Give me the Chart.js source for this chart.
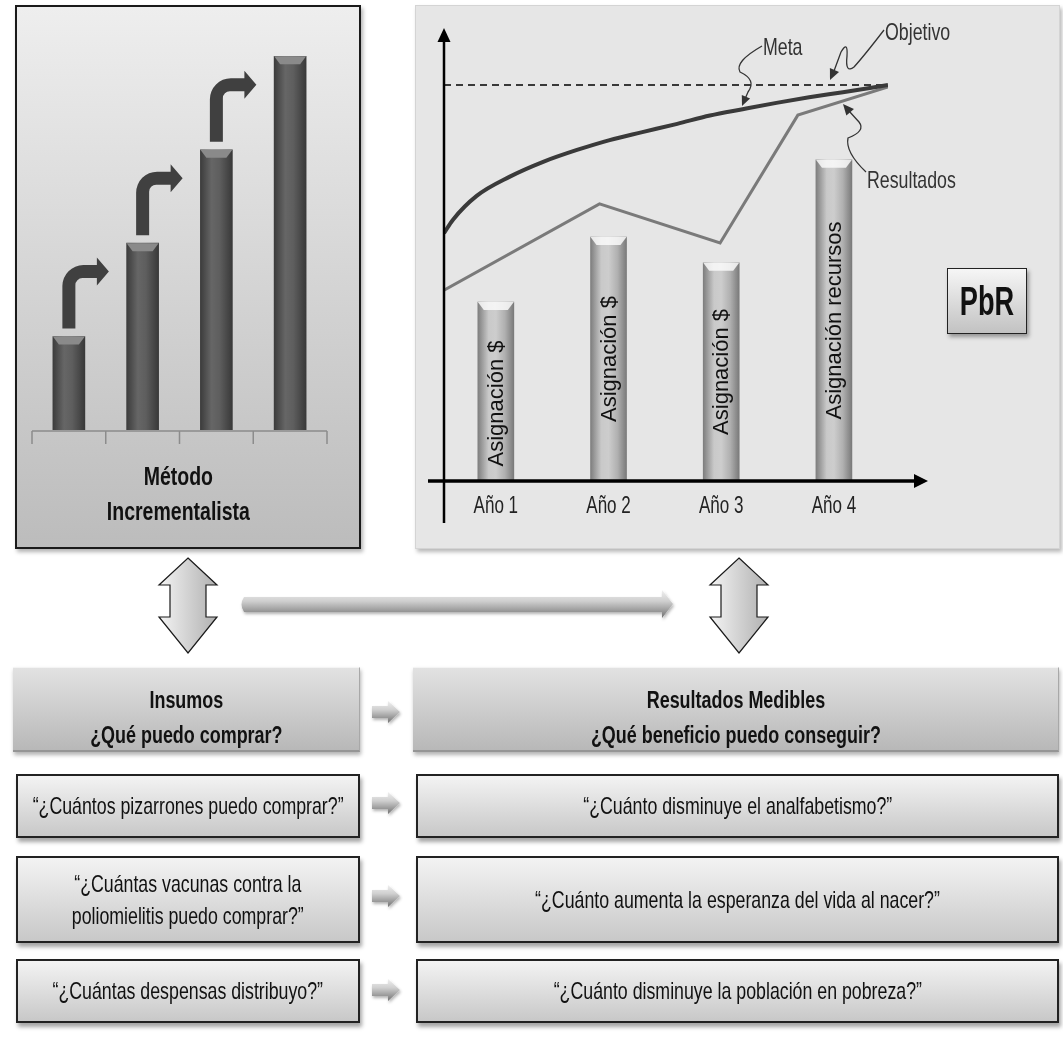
<!DOCTYPE html>
<html lang="es">
  <head>
    <meta charset="UTF-8" />
    <title>Método Incrementalista y PbR</title>
    <script src="https://cdn.jsdelivr.net/npm/chart.js"></script>
    <style>
      * { margin: 0; padding: 0; box-sizing: border-box; }
      body {
        width: 1063px; height: 1046px; background: #fff; position: relative; overflow: hidden;
        font-family: 'Liberation Sans', Arial, sans-serif;
        color: #111;
      }
      /* texto estrecho, como Arial Narrow */
      .n { display: inline-block; white-space: nowrap; transform: scaleX(var(--s, 0.74)); transform-origin: center; }
      /* paneles superiores */
      .panel-left {
        position: absolute; left: 15px; top: 5px; width: 346px; height: 544px;
        border: 2px solid #1a1a1a; background: linear-gradient(#eeeeee, #bcbcbc);
        box-shadow: 2px 3px 4px rgba(0, 0, 0, 0.3);
      }
      .panel-right {
        position: absolute; left: 415px; top: 5px; width: 645px; height: 544px;
        border: 1px solid #d4d4d4; background: #e6e6e6;
        box-shadow: 2px 3px 4px rgba(0, 0, 0, 0.28);
      }
      canvas { position: absolute; }
      #chartInc { left: 15px; top: 5px; }
      #chartPbr { left: 415px; top: 5px; }
      .titulo {
        position: absolute; left: 40px; top: 459px; width: 276px;
        display: flex; justify-content: center; text-align: center;
        font-weight: bold; font-size: 26px; line-height: 35px; --s: 0.75;
      }
      .pbr {
        position: absolute; left: 947px; top: 268px; width: 80px; height: 66px;
        border: 1.5px solid #222; background: linear-gradient(#f6f6f6, #c2c2c2);
        box-shadow: 2px 3px 4px rgba(0, 0, 0, 0.35);
        display: flex; align-items: center; justify-content: center;
        font-weight: bold; font-size: 40px; --s: 0.68;
      }
      /* tabla inferior */
      .head {
        position: absolute; top: 667px; height: 85px; text-align: center;
        display: flex; justify-content: center;
        font-weight: bold; font-size: 23px; line-height: 35px; padding-top: 15px; --s: 0.78;
        background: linear-gradient(#e2e2e2, #b8b8b8);
        border-top: 1px solid #f4f4f4; border-bottom: 2px solid #959595; border-right: 1px solid #a8a8a8;
        box-shadow: 1px 3px 4px rgba(0, 0, 0, 0.3);
      }
      .row {
        position: absolute; display: flex; align-items: center; justify-content: center;
        text-align: center; font-size: 24px; line-height: 32px; --s: 0.74;
        border: 2px solid #222; background: linear-gradient(#f3f3f3, #c8c8c8);
        box-shadow: 2px 4px 4px rgba(0, 0, 0, 0.35);
      }
      .l { left: 16px; width: 344px; }
      .r { left: 416px; width: 643px; }
      svg { position: absolute; left: 0; top: 0; }
    </style>
  </head>
  <body>
    <div class="panel-left"></div>
    <div class="panel-right"></div>

    <canvas id="chartInc" width="346" height="544"></canvas>
    <canvas id="chartPbr" width="645" height="544"></canvas>

    <div class="titulo"><span class="n">Método<br />Incrementalista</span></div>
    <div class="pbr"><span class="n">PbR</span></div>

    <!-- flechas -->
    <svg width="1063" height="1046">
      <defs>
        <linearGradient id="gDoble" x1="0" y1="0" x2="1" y2="0">
          <stop offset="0" stop-color="#f4f4f4" />
          <stop offset="1" stop-color="#b0b0b0" />
        </linearGradient>
        <linearGradient id="gHoriz" x1="0" y1="0" x2="0" y2="1">
          <stop offset="0" stop-color="#f0f0f0" />
          <stop offset="0.4" stop-color="#cfcfcf" />
          <stop offset="0.75" stop-color="#999999" />
          <stop offset="1" stop-color="#707070" />
        </linearGradient>
        <filter id="sombra" x="-10%" y="-50%" width="120%" height="200%">
          <feDropShadow dx="1" dy="2" stdDeviation="1.5" flood-opacity="0.3" />
        </filter>
      </defs>
      <polygon points="188,558 217,585 206,585 206,617 217,617 188,653 159,617 170,617 170,585 159,585"
        fill="url(#gDoble)" stroke="#1a1a1a" stroke-width="1.2" />
      <polygon points="739,558 768,585 757,585 757,617 768,617 739,653 710,617 721,617 721,585 710,585"
        fill="url(#gDoble)" stroke="#1a1a1a" stroke-width="1.2" />
      <path d="M244,597 L662,597 L662,590 L673,604 L662,618 L662,612 L244,612 Q239,604.5 244,597 Z"
        fill="url(#gHoriz)" filter="url(#sombra)" />
      <g fill="url(#gHoriz)" filter="url(#sombra)">
        <path d="M372,706 L388,706 L388,701 L400,712 L388,723 L388,718 L372,718 Z" />
        <path d="M372,797 L388,797 L388,792 L400,803 L388,814 L388,809 L372,809 Z" />
        <path d="M372,890 L388,890 L388,885 L400,896 L388,907 L388,902 L372,902 Z" />
        <path d="M372,984 L388,984 L388,979 L400,990 L388,1001 L388,996 L372,996 Z" />
      </g>
    </svg>

    <div class="head l" style="left: 13px; width: 347px"><span class="n">Insumos<br />¿Qué puedo comprar?</span></div>
    <div class="head r" style="left: 413px; width: 646px"><span class="n">Resultados Medibles<br />¿Qué beneficio puedo conseguir?</span></div>

    <div class="row l" style="top: 774px; height: 64px"><span class="n">“¿Cuántos pizarrones puedo comprar?”</span></div>
    <div class="row r" style="top: 774px; height: 64px"><span class="n">“¿Cuánto disminuye el analfabetismo?”</span></div>
    <div class="row l" style="top: 856px; height: 87px"><span class="n">“¿Cuántas vacunas contra la<br />poliomielitis puedo comprar?”</span></div>
    <div class="row r" style="top: 856px; height: 87px"><span class="n">“¿Cuánto aumenta la esperanza del vida al nacer?”</span></div>
    <div class="row l" style="top: 959px; height: 64px"><span class="n">“¿Cuántas despensas distribuyo?”</span></div>
    <div class="row r" style="top: 959px; height: 64px"><span class="n">“¿Cuánto disminuye la población en pobreza?”</span></div>

    <script>
      /*====  DATOS ============================ */
      // Método incrementalista: cada periodo suma lo mismo
      const incPeriodos = ['Periodo 1', 'Periodo 2', 'Periodo 3', 'Periodo 4'];
      const incValores = [10, 20, 30, 40];

      // PbR: asignación por año y trayectorias
      const pbrAnios = [1, 2, 3, 4];
      const pbrEtiquetasAnio = ['Año 1', 'Año 2', 'Año 3', 'Año 4'];
      const pbrAsignacion = [45.2, 61.6, 55.1, 81.1];
      const pbrEtiquetasBarra = ['Asignación $', 'Asignación $', 'Asignación $', 'Asignación recursos'];

      const metaX = [0.54, 0.62, 0.83, 1.12, 1.42, 1.72, 2.01, 2.3, 2.61, 2.9, 3.19, 3.49, 3.78, 4.08, 4.48];
      const metaY = [62.6, 66.0, 72.0, 76.8, 80.6, 83.6, 86.1, 88.1, 90.2, 92.3, 93.9, 95.5, 96.9, 98.2, 100];

      const resultadosX = [0.54, 1.92, 2.99, 3.68, 4.48];
      const resultadosY = [48.2, 70.0, 60.1, 92.4, 99.5];

      const objetivoX = [0.54, 4.48];
      const objetivoY = [100, 100];

      const ESTRECHO = 0.74;

      const pares = (xs, ys) => xs.map((x, i) => ({ x: x, y: ys[i] }));

      // texto estrecho en el lienzo
      function textoN(ctx, txt, x, y) {
        ctx.save();
        ctx.translate(x, y);
        ctx.scale(ESTRECHO, 1);
        ctx.fillText(txt, 0, 0);
        ctx.restore();
      }

      function gradBarra(ctx, cx, w, stops) {
        const g = ctx.createLinearGradient(cx - w / 2, 0, cx + w / 2, 0);
        stops.forEach((s) => g.addColorStop(s[0], s[1]));
        return g;
      }

      function bisel(ctx, el, color) {
        const w = el.width / 2;
        ctx.fillStyle = color;
        ctx.beginPath();
        ctx.moveTo(el.x - w, el.y);
        ctx.lineTo(el.x + w, el.y);
        ctx.lineTo(el.x + w - 6, el.y + 8);
        ctx.lineTo(el.x - w + 6, el.y + 8);
        ctx.closePath();
        ctx.fill();
      }

      function punta(ctx, x, y, ang, len, ancho) {
        ctx.beginPath();
        ctx.moveTo(x, y);
        ctx.lineTo(x - len * Math.cos(ang) + ancho * Math.sin(ang), y - len * Math.sin(ang) - ancho * Math.cos(ang));
        ctx.lineTo(x - len * Math.cos(ang) - ancho * Math.sin(ang), y - len * Math.sin(ang) + ancho * Math.cos(ang));
        ctx.closePath();
        ctx.fill();
      }

      /*====  GRAFICO INCREMENTAL ============================ */
      const incDecor = {
        id: 'incDecor',
        beforeDatasetsDraw(chart) {
          const { ctx, chartArea, scales } = chart;
          const y0 = scales.y.getPixelForValue(0) + 1;
          ctx.save();
          ctx.strokeStyle = '#8c8c8c';
          ctx.lineWidth = 1.5;
          ctx.beginPath();
          ctx.moveTo(chartArea.left, y0);
          ctx.lineTo(chartArea.right, y0);
          const paso = (chartArea.right - chartArea.left) / incPeriodos.length;
          for (let i = 0; i <= incPeriodos.length; i++) {
            const x = chartArea.left + i * paso;
            ctx.moveTo(x, y0);
            ctx.lineTo(x, y0 + 13);
          }
          ctx.stroke();
          ctx.restore();
        },
        afterDatasetsDraw(chart) {
          const { ctx } = chart;
          const els = chart.getDatasetMeta(0).data;
          ctx.save();
          els.forEach((el) => bisel(ctx, el, '#8a8a8a'));
          // flechas curvas de un periodo al siguiente
          ctx.fillStyle = '#404040';
          els.slice(0, -1).forEach((el) => {
            const cx = el.x;
            const base = el.y - 8;
            const yc = el.y - 65;
            const xL = cx - 6.5, xR = cx + 6.5, yT = yc - 6.5, yB = yc + 6.5;
            const R = 21, r = 7;
            const xe = cx + 28;
            ctx.beginPath();
            ctx.moveTo(xL, base);
            ctx.lineTo(xL, yT + R);
            ctx.arcTo(xL, yT, xL + R, yT, R);
            ctx.lineTo(xe, yT);
            ctx.lineTo(xe, yc - 14);
            ctx.lineTo(cx + 40, yc);
            ctx.lineTo(xe, yc + 14);
            ctx.lineTo(xe, yB);
            ctx.lineTo(xR + r, yB);
            ctx.arcTo(xR, yB, xR, yB + r, r);
            ctx.lineTo(xR, base);
            ctx.closePath();
            ctx.fill();
          });
          ctx.restore();
        }
      };

      new Chart(document.getElementById('chartInc').getContext('2d'), {
        type: 'bar',
        data: {
          labels: incPeriodos,
          datasets: [
            {
              label: 'Presupuesto',
              data: incValores,
              barThickness: 32,
              borderWidth: 0,
              backgroundColor(c) {
                const chart = c.chart;
                if (!chart.chartArea || c.type !== 'data') return '#5a5a5a';
                const cx = chart.scales.x.getPixelForValue(c.index);
                return gradBarra(chart.ctx, cx, 32, [[0, '#3c3c3c'], [0.35, '#666666'], [0.6, '#5e5e5e'], [1, '#393939']]);
              }
            }
          ]
        },
        options: {
          responsive: false,
          animation: false,
          layout: { padding: { left: 17, right: 34, top: 14, bottom: 119 } },
          plugins: { legend: { display: false }, tooltip: { enabled: false } },
          scales: {
            x: { display: false },
            y: { display: false, min: 0, max: 44 }
          }
        },
        plugins: [incDecor]
      });

      /*====  GRAFICO PbR ============================ */
      // pasa coordenadas de la página al lienzo del panel derecho
      const P = (px, py) => [px - 415, py - 5];

      const pbrDecor = {
        id: 'pbrDecor',
        afterDatasetsDraw(chart) {
          const { ctx, chartArea, scales } = chart;
          const y0 = scales.y.getPixelForValue(0);
          const els = chart.getDatasetMeta(0).data;
          ctx.save();

          els.forEach((el) => bisel(ctx, el, 'rgba(250,250,250,0.85)'));

          // ejes con flecha
          ctx.strokeStyle = '#000';
          ctx.fillStyle = '#000';
          ctx.lineWidth = 2.5;
          ctx.beginPath();
          ctx.moveTo(chartArea.left, chartArea.bottom);
          ctx.lineTo(chartArea.left, chartArea.top + 10);
          ctx.stroke();
          punta(ctx, chartArea.left, chartArea.top, -Math.PI / 2, 14, 6.5);
          ctx.lineWidth = 3.5;
          ctx.beginPath();
          ctx.moveTo(chartArea.left - 16, y0);
          ctx.lineTo(chartArea.right + 30, y0);
          ctx.stroke();
          punta(ctx, chartArea.right + 40, y0, 0, 14, 7);

          // textos de las barras
          ctx.fillStyle = '#111';
          ctx.font = '22px "Liberation Sans", Arial, sans-serif';
          ctx.textAlign = 'center';
          ctx.textBaseline = 'middle';
          els.forEach((el, i) => {
            ctx.save();
            ctx.translate(el.x + 1, (el.y + el.base) / 2 + (i === 0 ? 12 : 0));
            ctx.rotate(-Math.PI / 2);
            ctx.fillText(pbrEtiquetasBarra[i], 0, 0);
            ctx.restore();
          });

          // años
          ctx.font = '23px "Liberation Sans", Arial, sans-serif';
          ctx.fillStyle = '#222';
          pbrAnios.forEach((a, i) => {
            textoN(ctx, pbrEtiquetasAnio[i], scales.x.getPixelForValue(a), y0 + 26);
          });

          // llamadas
          ctx.strokeStyle = '#333';
          ctx.fillStyle = '#333';
          ctx.lineWidth = 1.3;
          ctx.font = '24px "Liberation Sans", Arial, sans-serif';
          ctx.textAlign = 'left';

          ctx.beginPath();
          ctx.moveTo(...P(762, 46));
          ctx.quadraticCurveTo(...P(734, 62), ...P(740, 72));
          ctx.quadraticCurveTo(...P(757, 80), ...P(748, 92));
          ctx.lineTo(...P(745, 99));
          ctx.stroke();
          punta(ctx, ...P(742, 106), Math.atan2(7, -3), 10, 4.5);
          textoN(ctx, 'Meta', ...P(763, 48));

          ctx.beginPath();
          ctx.moveTo(...P(884, 30));
          ctx.quadraticCurveTo(...P(864, 56), ...P(854, 67));
          ctx.quadraticCurveTo(...P(845, 74), ...P(847, 56));
          ctx.quadraticCurveTo(...P(848, 40), ...P(841, 52));
          ctx.lineTo(...P(834, 71));
          ctx.stroke();
          punta(ctx, ...P(830, 80), Math.atan2(9, -4), 11, 5);
          textoN(ctx, 'Objetivo', ...P(885, 33));

          ctx.beginPath();
          ctx.moveTo(...P(866, 172));
          ctx.quadraticCurveTo(...P(845, 152), ...P(848, 138));
          ctx.quadraticCurveTo(...P(866, 131), ...P(859, 122));
          ctx.lineTo(...P(849, 111));
          ctx.stroke();
          punta(ctx, ...P(843, 104), Math.atan2(-7, -6), 11, 5);
          textoN(ctx, 'Resultados', ...P(867, 181));

          ctx.restore();
        }
      };

      new Chart(document.getElementById('chartPbr').getContext('2d'), {
        type: 'bar',
        data: {
          datasets: [
            {
              label: 'Asignación',
              data: pares(pbrAnios, pbrAsignacion),
              order: 2,
              barThickness: 36,
              borderWidth: 0,
              backgroundColor(c) {
                const chart = c.chart;
                if (!chart.chartArea || c.type !== 'data') return '#aaaaaa';
                const cx = chart.scales.x.getPixelForValue(c.raw.x);
                return gradBarra(chart.ctx, cx, 36, [[0, '#7e7e7e'], [0.3, '#c9c9c9'], [0.5, '#cdcdcd'], [0.75, '#b0b0b0'], [1, '#7a7a7a']]);
              }
            },
            {
              type: 'line',
              label: 'Objetivo',
              data: pares(objetivoX, objetivoY),
              order: 1,
              borderColor: '#000',
              borderWidth: 1.5,
              borderDash: [7, 5],
              pointRadius: 0
            },
            {
              type: 'line',
              label: 'Meta',
              data: pares(metaX, metaY),
              order: 0,
              borderColor: '#3a3a3a',
              borderWidth: 4,
              cubicInterpolationMode: 'monotone',
              pointRadius: 0
            },
            {
              type: 'line',
              label: 'Resultados',
              data: pares(resultadosX, resultadosY),
              order: 0,
              borderColor: '#7a7a7a',
              borderWidth: 3,
              tension: 0,
              pointRadius: 0
            }
          ]
        },
        options: {
          responsive: false,
          animation: false,
          layout: { padding: { left: 29, right: 172, top: 23, bottom: 26 } },
          plugins: { legend: { display: false }, tooltip: { enabled: false } },
          scales: {
            x: { type: 'linear', display: false, offset: false, min: 0.54, max: 4.48 },
            y: { display: false, min: -10.6, max: 114.4 }
          }
        },
        plugins: [pbrDecor]
      });
    </script>
  </body>
</html>
